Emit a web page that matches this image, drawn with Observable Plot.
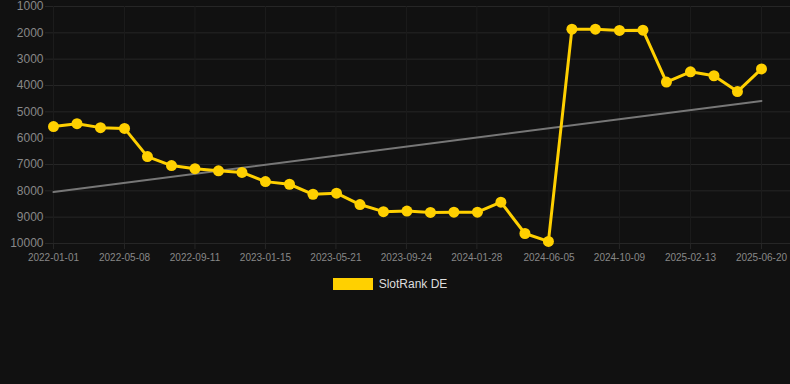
<!DOCTYPE html>
<html>
<head>
<meta charset="utf-8">
<script src="https://cdn.jsdelivr.net/npm/d3@7"></script>
<script src="https://cdn.jsdelivr.net/npm/@observablehq/plot@0.6"></script>
<style>
  html, body { margin: 0; padding: 0; background: #111111; }
  body { width: 790px; height: 384px; overflow: hidden; font-family: "Liberation Sans", Arial, sans-serif; }
  #legend { display: flex; justify-content: center; align-items: center; height: 14px; margin-top: 7px; padding-right: 10px; }
  #legend .sw { width: 40px; height: 12px; background: #FFD000; margin-right: 6px; }
  #legend .lb { color: #dddddd; font-size: 12px; }
</style>
</head>
<body>
<div id="chart"></div>
<div id="legend"><span class="sw"></span><span class="lb">SlotRank DE</span></div>
<script>
const dates = [
  "2022-01-01","2022-02-12","2022-03-26","2022-05-08","2022-06-18","2022-07-31",
  "2022-09-11","2022-10-23","2022-12-04","2023-01-15","2023-02-27","2023-04-10",
  "2023-05-22","2023-07-03","2023-08-14","2023-09-25","2023-11-06","2023-12-18",
  "2024-01-29","2024-03-11","2024-04-23","2024-06-04","2024-07-16","2024-08-27",
  "2024-10-09","2024-11-20","2025-01-01","2025-02-13","2025-03-27","2025-05-08",
  "2025-06-20"
];
const ranks = [
  5560, 5450, 5600, 5630, 6700, 7040,
  7160, 7240, 7300, 7650, 7750, 8130,
  8090, 8520, 8790, 8770, 8820, 8810,
  8810, 8430, 9620, 9920, 1860, 1860,
  1910, 1900, 3870, 3480, 3630, 4230,
  3370
];
const xTicks = [
  "2022-01-01","2022-05-08","2022-09-11","2023-01-15","2023-05-21","2023-09-24",
  "2024-01-28","2024-06-05","2024-10-09","2025-02-13","2025-06-20"
];
const yTicks = [1000, 2000, 3000, 4000, 5000, 6000, 7000, 8000, 9000, 10000];

const data = dates.map((d, i) => ({date: new Date(d), rank: ranks[i]}));
const tickDates = xTicks.map(d => new Date(d));

const chart = Plot.plot({
  width: 790,
  height: 270,
  marginTop: 6,
  marginBottom: 27,
  marginLeft: 45,
  marginRight: 0,
  style: {background: "#111111", fontFamily: "'Liberation Sans', Arial, sans-serif"},
  x: {type: "utc", domain: [new Date("2022-01-01"), new Date("2025-06-20")], insetLeft: 8, insetRight: 29},
  y: {domain: [1000, 10000], reverse: true},
  marks: [
    Plot.gridY(yTicks, {stroke: "#262626", strokeOpacity: 1}),
    Plot.gridX(tickDates, {stroke: "#1c1c1c", strokeOpacity: 1}),
    Plot.axisY(yTicks, {tickSize: 0, tickPadding: 2, fontSize: 12, fill: "#888888", label: null, tickFormat: d => String(d)}),
    Plot.axisX(tickDates, {tickSize: 6, tickPadding: 4, fontSize: 10, fill: "#888888", stroke: "#262626", label: null, tickFormat: d3.utcFormat("%Y-%m-%d")}),
    Plot.linearRegressionY(data, {x: "date", y: "rank", stroke: "#777777", strokeWidth: 2, ci: 0}),
    Plot.line(data, {x: "date", y: "rank", stroke: "#FFD000", strokeWidth: 3}),
    Plot.dot(data, {x: "date", y: "rank", fill: "#FFD000", r: 5.5})
  ]
});
document.getElementById("chart").appendChild(chart);
</script>
</body>
</html>
